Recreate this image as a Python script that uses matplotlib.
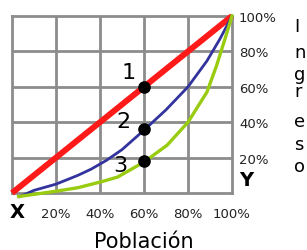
import matplotlib
matplotlib.use("Agg")
import matplotlib.pyplot as plt

# Lorenz curves: share of population (x) vs share of income (y)
equality_x = [0.0, 1.0]
equality_y = [0.0, 1.0]

blue_x = [0.036, 0.1, 0.2, 0.3, 0.36, 0.43, 0.5, 0.6, 0.7, 0.8, 0.886, 0.945, 1.0]
blue_y = [-0.02, 0.015, 0.05, 0.10, 0.135, 0.185, 0.245, 0.355, 0.47, 0.60, 0.746, 0.87, 1.0]

green_x = [0.03, 0.2, 0.3, 0.41, 0.48, 0.6, 0.705, 0.8, 0.886, 0.93, 0.968, 1.0]
green_y = [-0.02, 0.01, 0.03, 0.065, 0.09, 0.175, 0.27, 0.40, 0.57, 0.72, 0.87, 1.0]

point_x = [0.6, 0.6, 0.6]
point_y = [0.6, 0.36, 0.18]
point_labels = ["1", "2", "3"]

tick_vals = [0.2, 0.4, 0.6, 0.8, 1.0]
tick_labels = ["20%", "40%", "60%", "80%", "100%"]

side_letters = ["I", "n", "g", "r", "e", "s", "o"]
side_baselines = [32, 58, 80, 97, 127, 150, 172]  # pixel rows from top

W, H = 307, 251
fig = plt.figure(figsize=(W / 100, H / 100), dpi=100)
ax = fig.add_axes([12 / W, 1 - 194 / H, 220 / W, 177 / H])

grid_c = "#8c8c8c"
ax.set_xlim(0, 1)
ax.set_ylim(0, 1)
for v in [0.2, 0.4, 0.6, 0.8]:
    ax.axvline(v, color=grid_c, lw=2.0, zorder=1)
    ax.axhline(v, color=grid_c, lw=2.0, zorder=1)
for s in ax.spines.values():
    s.set_color(grid_c)
    s.set_linewidth(2.0)

ax.plot(equality_x, equality_y, color="#ff1a1a", lw=4.3, solid_capstyle="butt",
        clip_on=False, zorder=3)
ax.plot(blue_x, blue_y, color="#33339e", lw=2.0, solid_joinstyle="round",
        clip_on=False, zorder=4)
ax.plot(green_x, green_y, color="#99cc11", lw=2.4, solid_joinstyle="round",
        clip_on=False, zorder=4)
ax.scatter(point_x, point_y, s=65, color="black", zorder=5, clip_on=False)

offsets = [(-11, 11), (-15, 6), (-17, -3)]
for px, py, lab, off in zip(point_x, point_y, point_labels, offsets):
    ax.annotate(lab, (px, py), xytext=off, textcoords="offset points",
                ha="center", va="center", fontsize=16, color="black")

txt_c = "#222222"
ax.set_xticks(tick_vals)
ax.set_xticklabels(tick_labels, fontsize=9.5, color=txt_c)
ax.yaxis.tick_right()
ax.set_yticks(tick_vals)
ax.set_yticklabels(tick_labels, fontsize=9.5, color=txt_c)
ax.tick_params(axis="x", length=0, pad=10)
ax.tick_params(axis="y", length=0, pad=5)
for lbl in ax.get_yticklabels():
    lbl.set_horizontalalignment("left")

fig.text(17 / W, 1 - 213 / H, "X", fontsize=14, fontweight="bold",
         ha="center", va="center", color="black")
fig.text(239 / W, 1 - 181 / H, "Y", fontsize=14, fontweight="bold",
         ha="left", va="center", color="black")

fig.text(144 / W, 3 / H, "Población", fontsize=15, ha="center",
         va="baseline", color="black")

for letter, base in zip(side_letters, side_baselines):
    fig.text(294 / W, 1 - base / H, letter, fontsize=13, ha="left",
             va="baseline", color="black")

fig.savefig("out.png", dpi=100)
